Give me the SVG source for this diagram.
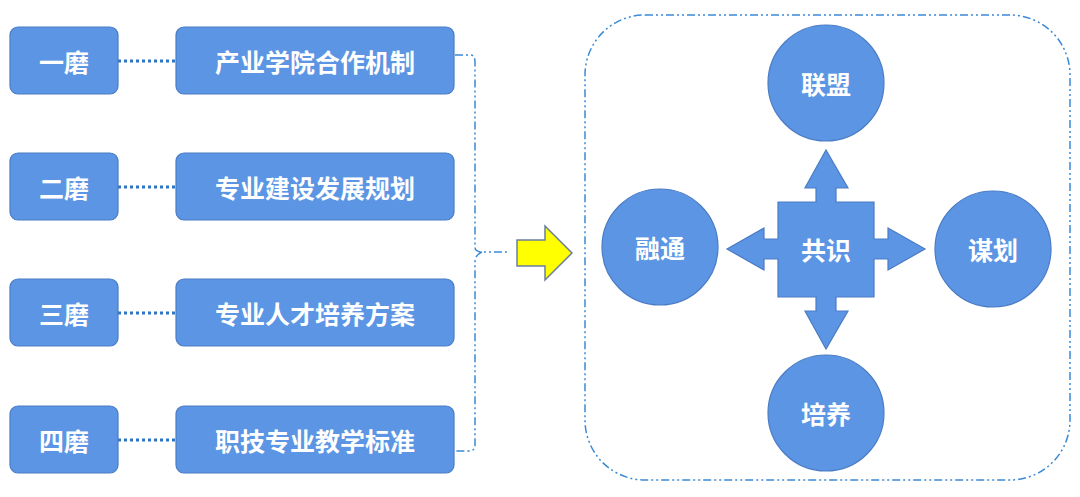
<svg xmlns="http://www.w3.org/2000/svg" width="1080" height="497" viewBox="0 0 1080 497">
<style>
.b{fill:#5b95e4;stroke:#4a7cc4;stroke-width:1.2}
.t{fill:#fff;font-family:"Noto Sans CJK SC",sans-serif;font-weight:bold;font-size:25px;text-anchor:middle;dominant-baseline:central}
.d{stroke:#2e75c6;stroke-width:3;stroke-dasharray:3 3;fill:none}
.dd{stroke:#3a8ad6;stroke-width:1.5;stroke-dasharray:8 3 2 3 2 3;fill:none}
</style>
<rect width="1080" height="497" fill="#fff"/>
<g id="connectors">
<line class="d" x1="118" y1="61" x2="176" y2="61"/>
<line class="d" x1="118" y1="187" x2="176" y2="187"/>
<line class="d" x1="118" y1="313" x2="176" y2="313"/>
<line class="d" x1="118" y1="440" x2="176" y2="440"/>
<path class="dd" d="M455 55 H470 Q475 55 475 62 V247 Q475 252 482 252 H510 M482 252 Q475 255 475 262 V446 Q475 451 468 451 H455"/>
<path d="M517 240 H545 V226 L572 253 L545 280 V266 H517 Z" fill="#ff0" stroke="#6a7fa0" stroke-width="1.5"/>
<rect class="dd" x="585" y="15" width="485" height="465" rx="60"/>
</g>
<g id="r1"><rect class="b" x="10" y="27" width="108" height="67" rx="8"/><text class="t" x="64" y="61">一磨</text></g>
<g id="r2"><rect class="b" x="10" y="153" width="108" height="67" rx="8"/><text class="t" x="64" y="187">二磨</text></g>
<g id="r3"><rect class="b" x="10" y="279" width="108" height="67" rx="8"/><text class="t" x="64" y="313">三磨</text></g>
<g id="r4"><rect class="b" x="10" y="406" width="108" height="67" rx="8"/><text class="t" x="64" y="440">四磨</text></g>
<g id="l1"><rect class="b" x="176" y="27" width="278" height="67" rx="8"/><text class="t" x="315" y="61">产业学院合作机制</text></g>
<g id="l2"><rect class="b" x="176" y="153" width="278" height="67" rx="8"/><text class="t" x="315" y="187">专业建设发展规划</text></g>
<g id="l3"><rect class="b" x="176" y="279" width="278" height="67" rx="8"/><text class="t" x="315" y="313">专业人才培养方案</text></g>
<g id="l4"><rect class="b" x="176" y="406" width="278" height="67" rx="8"/><text class="t" x="315" y="440">职技专业教学标准</text></g>
<g id="c1"><circle class="b" cx="826" cy="83" r="58"/><text class="t" x="826" y="83">联盟</text></g>
<g id="c2"><circle class="b" cx="660" cy="247" r="58"/><text class="t" x="660" y="247">融通</text></g>
<g id="c3"><circle class="b" cx="993" cy="249" r="58"/><text class="t" x="993" y="249">谋划</text></g>
<g id="c4"><circle class="b" cx="826" cy="413" r="58"/><text class="t" x="826" y="413">培养</text></g>
<g id="center"><path class="b" d="M778 202 H816 V188 H805 L826 150 L848 188 H836 V202 H874 V239 H888 V228 L925 249 L888 270 V259 H874 V297 H836 V311 H848 L826 349 L805 311 H816 V297 H778 V259 H764 V270 L727 249 L764 228 V239 H778 Z"/><text class="t" x="826" y="249" font-size="28">共识</text></g>
</svg>
